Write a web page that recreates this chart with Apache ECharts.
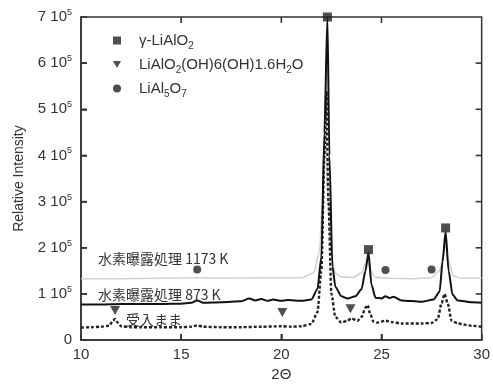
<!DOCTYPE html>
<html>
<head>
<meta charset="utf-8">
<script src="https://cdn.jsdelivr.net/npm/echarts@6/dist/echarts.min.js"></script>
<style>
  html, body { margin: 0; padding: 0; background: #fff; }
  #myChart { width: 493px; height: 387px; }
</style>
</head>
<body>
<div id="myChart"></div>
<script>
// 2θ / intensity (x 10^5)
const xTicks = [10, 15, 20, 25, 30]
const yTicks = [0, 1, 2, 3, 4, 5, 6, 7]

const asReceived = [
  [10, 0.27], [10.5, 0.28], [11, 0.29], [11.4, 0.31], [11.6, 0.42], [11.7, 0.46], [11.85, 0.37],
  [12, 0.3], [12.5, 0.28], [13, 0.28], [14, 0.28], [15, 0.28], [15.5, 0.29], [15.8, 0.32],
  [16.1, 0.29], [17, 0.28], [18, 0.28], [19, 0.29], [20, 0.3], [20.5, 0.29], [21, 0.3],
  [21.5, 0.35], [21.8, 0.6], [22.0, 1.5], [22.15, 4.0], [22.25, 5.4], [22.35, 3.0], [22.5, 1.0],
  [22.7, 0.5], [23.0, 0.38], [23.3, 0.42], [23.5, 0.47], [23.8, 0.42], [24.0, 0.5], [24.2, 0.7],
  [24.3, 0.76], [24.45, 0.55], [24.6, 0.4], [24.8, 0.38], [25.2, 0.42], [25.5, 0.39], [26, 0.36],
  [27, 0.36], [27.5, 0.37], [27.8, 0.45], [28.0, 0.8], [28.15, 1.0], [28.3, 0.8], [28.5, 0.42],
  [28.8, 0.36], [29.5, 0.31], [30, 0.29]
]
const h873 = [
  [10, 0.77], [11, 0.77], [12, 0.78], [13, 0.78], [14, 0.78], [15, 0.79], [15.5, 0.81],
  [15.8, 0.86], [16.1, 0.81], [17, 0.82], [18, 0.84], [18.4, 0.9], [18.7, 0.86], [19.0, 0.89],
  [19.3, 0.85], [19.6, 0.88], [20.0, 0.85], [20.3, 0.87], [21, 0.85], [21.5, 0.88], [21.8, 1.1],
  [22.0, 1.8], [22.15, 4.5], [22.3, 7.0], [22.4, 4.0], [22.55, 1.6], [22.7, 1.15], [23.0, 0.95],
  [23.3, 0.9], [23.7, 0.95], [24.0, 1.1], [24.2, 1.5], [24.35, 1.9], [24.5, 1.2], [24.7, 0.92],
  [25.0, 0.9], [25.2, 0.95], [25.4, 0.91], [25.6, 0.94], [26, 0.86], [27, 0.83], [27.6, 0.88],
  [27.9, 1.05], [28.05, 1.7], [28.2, 2.35], [28.35, 1.5], [28.55, 0.98], [28.8, 0.86],
  [29.5, 0.82], [30, 0.81]
]
const h1173 = [
  [10, 1.33], [12, 1.33], [14, 1.34], [15.8, 1.35], [17, 1.34], [19, 1.35], [21, 1.35],
  [21.6, 1.45], [21.9, 1.9], [22.05, 3.0], [22.2, 4.6], [22.35, 3.0], [22.5, 1.8], [22.7, 1.45],
  [23.0, 1.37], [23.6, 1.36], [24.0, 1.45], [24.2, 1.65], [24.3, 1.78], [24.45, 1.5],
  [24.7, 1.36], [25.5, 1.34], [26.5, 1.33], [27.5, 1.35], [27.9, 1.5], [28.1, 1.9], [28.2, 2.08],
  [28.35, 1.7], [28.6, 1.38], [29, 1.34], [30, 1.34]
]

const squarePts = [[22.3, 7.0], [24.35, 1.96], [28.2, 2.43]]
const trianglePts = [[11.7, 0.64], [20.05, 0.6], [23.45, 0.68]]
const circlePts = [[15.8, 1.53], [25.2, 1.52], [27.5, 1.53]]

const scale = 1e5
const toAbs = arr => arr.map(p => [p[0], p[1] * scale])

const downTri = 'path://M0,0L10,0L5,9Z'
const ink = '#333'
const tickLen = 6
const tickW = 1.6
const xMin = 10
const xMax = 30
const yMax = 7e5

// one inside tick per item; side: 'bottom' | 'top' | 'left' | 'right'
function tickSeries (side) {
  const vertical = side === 'bottom' || side === 'top'
  const vals = vertical ? xTicks.slice(1, -1) : yTicks.slice(1, -1)
  return {
    type: 'custom',
    clip: false,
    silent: true,
    z: 10,
    data: vals.map(v => vertical ? [v, side === 'bottom' ? 0 : yMax] : [side === 'left' ? xMin : xMax, v * scale]),
    renderItem: function (params, api) {
      const p = api.coord([api.value(0), api.value(1)])
      let shape
      if (side === 'bottom') shape = { x: p[0] - tickW / 2, y: p[1] - tickLen, width: tickW, height: tickLen }
      else if (side === 'top') shape = { x: p[0] - tickW / 2, y: p[1], width: tickW, height: tickLen }
      else if (side === 'left') shape = { x: p[0], y: p[1] - tickW / 2, width: tickLen, height: tickW }
      else shape = { x: p[0] - tickLen, y: p[1] - tickW / 2, width: tickLen, height: tickW }
      return { type: 'rect', shape: shape, style: { fill: ink } }
    }
  }
}

let myChart = echarts.init(document.getElementById('myChart'))
myChart.setOption({
  animation: false,
  textStyle: { fontFamily: 'Liberation Sans', color: ink },
  grid: { left: 81, right: 8, top: 17, bottom: 42, show: true, borderColor: ink, borderWidth: 1.5, backgroundColor: 'transparent' },
  legend: {
    orient: 'vertical',
    left: 108,
    top: 28,
    itemGap: 6,
    itemWidth: 8,
    itemHeight: 8,
    data: [
      { name: 'sq', icon: 'rect' },
      { name: 'tri', icon: downTri },
      { name: 'cir', icon: 'circle' }
    ],
    textStyle: {
      fontSize: 15,
      color: ink,
      padding: [0, 0, 0, 13],
      rich: {
        t: { fontSize: 15, color: ink },
        s: { fontSize: 10, color: ink, padding: [11, 0, 0, 0] }
      }
    },
    formatter: function (name) {
      if (name === 'sq') return '{t|γ-LiAlO}{s|2}'
      if (name === 'tri') return '{t|LiAlO}{s|2}{t|(OH)6(OH)1.6H}{s|2}{t|O}'
      return '{t|LiAl}{s|5}{t|O}{s|7}'
    }
  },
  xAxis: {
    type: 'value', min: xMin, max: xMax, interval: 5,
    name: '2Θ', nameLocation: 'middle', nameGap: 26,
    nameTextStyle: { fontSize: 15, color: ink },
    axisLine: { show: true, lineStyle: { color: ink, width: 1.5 } },
    axisTick: { show: true, inside: true, length: tickLen, lineStyle: { color: ink, width: 1.5 } },
    splitLine: { show: false },
    axisLabel: { fontSize: 15, color: ink, margin: 7,
      formatter: v => (xTicks.indexOf(v) >= 0 ? String(v) : '') }
  },
  yAxis: {
    type: 'value', min: 0, max: yMax, interval: 1e5,
    name: 'Relative Intensity', nameLocation: 'middle', nameGap: 55,
    nameTextStyle: { fontSize: 14, color: ink },
    axisLine: { show: true, lineStyle: { color: ink, width: 1.5 } },
    axisTick: { show: true, inside: true, length: tickLen, lineStyle: { color: ink, width: 1.5 } },
    splitLine: { show: false },
    axisLabel: {
      margin: 9, color: ink,
      formatter: function (v) {
        const n = Math.round(v / scale)
        if (yTicks.indexOf(n) < 0) return ''
        return n === 0 ? '{n|0}' : '{n|' + n + ' 10}{p|5}'
      },
      rich: {
        n: { fontSize: 15, color: ink },
        p: { fontSize: 9, color: ink, padding: [0, 0, 9, 0] }
      }
    }
  },
  series: [
    {
      name: '1173', type: 'line', data: toAbs(h1173), showSymbol: false,
      smooth: 0.25, smoothMonotone: 'x',
      lineStyle: { color: '#d2d2d2', width: 1.6 }, z: 1
    },
    {
      name: 'as', type: 'line', data: toAbs(asReceived), showSymbol: false,
      smooth: 0.25, smoothMonotone: 'x',
      lineStyle: { color: '#222', width: 2.4, type: [3, 2] }, z: 2
    },
    {
      name: '873', type: 'line', data: toAbs(h873), showSymbol: false,
      smooth: 0.25, smoothMonotone: 'x',
      lineStyle: { color: '#111', width: 2 }, z: 3
    },
    {
      name: 'sq', type: 'scatter', data: toAbs(squarePts), symbol: 'rect', symbolSize: 9,
      itemStyle: { color: '#222' }, z: 5
    },
    {
      name: 'tri', type: 'scatter', data: toAbs(trianglePts), symbol: downTri, symbolSize: [10, 9],
      itemStyle: { color: '#222' }, z: 5
    },
    {
      name: 'cir', type: 'scatter', data: toAbs(circlePts), symbol: 'circle', symbolSize: 8,
      itemStyle: { color: '#222' }, z: 5
    },
    tickSeries('bottom'),
    tickSeries('top'),
    tickSeries('left'),
    tickSeries('right')
  ],
  graphic: [
    { type: 'text', left: 98, top: 252,
      style: { text: '水素曝露処理 1173 K', fontSize: 14, fill: ink, fontFamily: 'Noto Sans CJK JP' } },
    { type: 'text', left: 98, top: 288,
      style: { text: '水素曝露処理 873 K', fontSize: 14, fill: ink, fontFamily: 'Noto Sans CJK JP' } },
    { type: 'text', left: 126, top: 313,
      style: { text: '受入まま', fontSize: 14, fill: ink, fontFamily: 'Noto Sans CJK JP' } }
  ]
})
</script>
</body>
</html>
